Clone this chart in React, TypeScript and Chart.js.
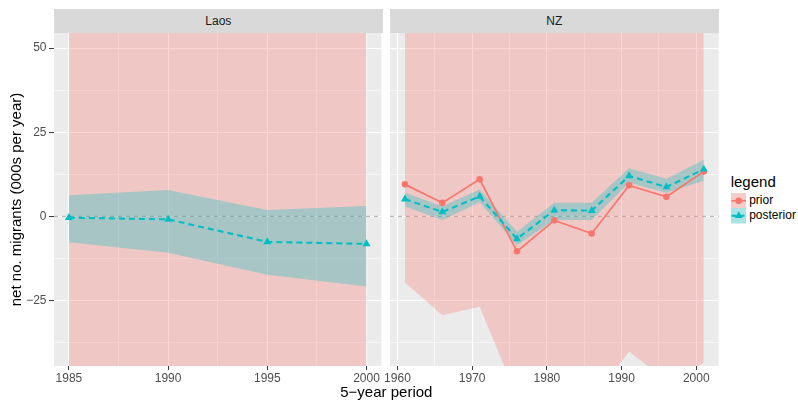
import React, { useEffect, useRef } from "react";
import { Chart, registerables } from "chart.js";

Chart.register(...registerables);

// ---------- data ----------
const laosYears = [1985, 1990, 1995, 2000];
const laosPriorLower = [-90, -90, -90, -90];
const laosPriorUpper = [90, 90, 90, 90];
const laosPostLower = [-7.7, -10.8, -17.4, -20.9];
const laosPostUpper = [6.3, 7.8, 1.9, 3.1];
const laosPosterior = [-0.4, -0.9, -7.6, -8.2];

const nzYears = [1961, 1966, 1971, 1976, 1981, 1986, 1991, 1996, 2001];
const nzPrior = [9.5, 4.0, 11.0, -10.4, -1.2, -5.1, 9.2, 5.8, 13.3];
const nzPriorLower = [-19.7, -29.4, -26.9, -53.6, -60.0, -55.2, -40.2, -48.8, -43.6];
const nzPriorUpper = [90, 90, 90, 90, 90, 90, 90, 90, 90];
const nzPosterior = [5.1, 1.3, 5.9, -6.7, 1.8, 1.7, 12.0, 8.7, 14.0];
const nzPostLower = [2.9, -1.1, 4.2, -8.6, -1.1, -1.1, 10.0, 7.0, 10.6];
const nzPostUpper = [7.0, 3.0, 8.0, -4.6, 4.0, 4.0, 14.3, 11.2, 16.8];

const yTicks = [-37.5, -25, -12.5, 0, 12.5, 25, 37.5, 50];
const yMajorStep = 25;
const yRange = [-44.5, 54.5];
const laosXTicks = [1985, 1987.5, 1990, 1992.5, 1995, 1997.5, 2000];
const laosXMajorStep = 5;
const laosXRange = [1984.25, 2000.75];
const nzXTicks = [1960, 1965, 1970, 1975, 1980, 1985, 1990, 1995, 2000];
const nzXMajorStep = 10;
const nzXRange = [1959, 2003];

const facetNames = ["Laos", "NZ"];
const legendTitle = "legend";
const legendLabels = ["prior", "posterior"];
const xTitle = "5\u2212year period";
const yTitle = "net no. migrants (000s per year)";

// ---------- styles ----------
const FONT = '"Liberation Sans", Arial, Helvetica, sans-serif';
const RED = "#F8766D";
const TEAL = "#00BFC4";
const RED_FILL = "rgba(248,118,109,0.3)";
const TEAL_FILL = "rgba(0,191,196,0.3)";
const NONE = "rgba(0,0,0,0)";

const isMultiple = (v: number, step: number) => Math.abs(v / step - Math.round(v / step)) < 1e-9;
const fmt = (v: number) => (v < 0 ? "\u2212" + Math.abs(v) : String(v));

const pts = (xs: number[], ys: number[]) => xs.map((x, i) => ({ x, y: ys[i] }));

const panelBg = {
  id: "panelBg",
  beforeDraw(chart: any) {
    const { ctx, chartArea: a } = chart;
    ctx.save();
    ctx.fillStyle = "#EBEBEB";
    ctx.fillRect(a.left, a.top, a.right - a.left, a.bottom - a.top);
    ctx.restore();
  },
};

const zeroLine = {
  id: "zeroLine",
  beforeDatasetsDraw(chart: any) {
    const { ctx, chartArea: a } = chart;
    const y = chart.scales.y.getPixelForValue(0);
    ctx.save();
    ctx.strokeStyle = "#A3A3A3";
    ctx.lineWidth = 0.9;
    ctx.setLineDash([4, 4]);
    ctx.beginPath();
    ctx.moveTo(a.left, y);
    ctx.lineTo(a.right, y);
    ctx.stroke();
    ctx.restore();
  },
};

type PanelSpec = {
  xs: number[];
  priorLower: number[];
  priorUpper: number[];
  prior?: number[];
  postLower: number[];
  postUpper: number[];
  post: number[];
  xTicks: number[];
  xStep: number;
  xRange: number[];
  showY: boolean;
  yWidth: number;
  padRight: number;
};

function makeConfig(p: PanelSpec): any {
  const ribbon = (data: number[], fill: any, bg: string, order: number) => ({
    data: pts(p.xs, data),
    borderColor: NONE,
    borderWidth: 0,
    pointRadius: 0,
    backgroundColor: bg,
    fill,
    order,
  });
  // higher "order" is drawn first (underneath)
  const datasets: any[] = [
    ribbon(p.priorLower, false, NONE, 9),
    ribbon(p.priorUpper, "-1", RED_FILL, 8),
    ribbon(p.postLower, false, NONE, 7),
    ribbon(p.postUpper, "-1", TEAL_FILL, 6),
  ];
  if (p.prior) {
    datasets.push({
      data: pts(p.xs, p.prior),
      borderColor: RED,
      borderWidth: 1.7,
      pointStyle: "circle",
      pointRadius: 3.3,
      pointBackgroundColor: RED,
      pointBorderColor: RED,
      pointBorderWidth: 0,
      fill: false,
      order: 5,
    });
  }
  datasets.push({
    data: pts(p.xs, p.post),
    borderColor: TEAL,
    borderWidth: 2.1,
    borderDash: [6, 4],
    pointStyle: "triangle",
    pointRadius: 4.6,
    pointBackgroundColor: TEAL,
    pointBorderColor: TEAL,
    pointBorderWidth: 0,
    fill: false,
    order: 4,
  });

  return {
    type: "line",
    data: { datasets },
    plugins: [panelBg, zeroLine],
    options: {
      responsive: false,
      animation: false,
      events: [],
      layout: { padding: { top: 33, right: p.padRight, left: 0, bottom: 0 } },
      elements: { line: { tension: 0 } },
      plugins: {
        legend: { display: false },
        tooltip: { enabled: false },
        title: { display: false },
      },
      scales: {
        x: {
          type: "linear",
          min: p.xRange[0],
          max: p.xRange[1],
          afterBuildTicks: (s: any) => {
            s.ticks = p.xTicks.map((v) => ({ value: v }));
          },
          afterFit: (s: any) => {
            s.height = 36;
          },
          border: { display: false },
          grid: {
            color: "#FFFFFF",
            lineWidth: (c: any) => (c.tick && isMultiple(c.tick.value, p.xStep) ? 1.1 : 0.55),
            tickLength: 4,
            tickWidth: 1,
            tickColor: (c: any) => (c.tick && isMultiple(c.tick.value, p.xStep) ? "#333333" : NONE),
          },
          ticks: {
            autoSkip: false,
            maxRotation: 0,
            padding: 1,
            color: "#4D4D4D",
            font: { family: FONT, size: 12 },
            callback: (v: number) => (isMultiple(v, p.xStep) ? String(v) : ""),
          },
        },
        y: {
          type: "linear",
          position: "left",
          min: yRange[0],
          max: yRange[1],
          afterBuildTicks: (s: any) => {
            s.ticks = yTicks.map((v) => ({ value: v }));
          },
          afterFit: (s: any) => {
            s.width = p.yWidth;
          },
          border: { display: false },
          grid: {
            color: "#FFFFFF",
            lineWidth: (c: any) => (c.tick && isMultiple(c.tick.value, yMajorStep) ? 1.1 : 0.55),
            drawTicks: p.showY,
            tickLength: 5,
            tickWidth: 1,
            tickColor: (c: any) => (c.tick && isMultiple(c.tick.value, yMajorStep) ? "#333333" : NONE),
          },
          ticks: {
            display: p.showY,
            autoSkip: false,
            padding: 2.5,
            color: "#4D4D4D",
            font: { family: FONT, size: 12 },
            callback: (v: number) => (isMultiple(v, yMajorStep) ? fmt(v) : ""),
          },
          title: {
            display: p.showY,
            text: yTitle,
            color: "#000000",
            font: { family: FONT, size: 15 },
            padding: { top: 8, bottom: 0 },
          },
        },
      },
    },
  };
}

function Panel(props: { spec: PanelSpec; left: number; width: number }) {
  const ref = useRef<HTMLCanvasElement | null>(null);
  useEffect(() => {
    if (!ref.current) return;
    const chart = new Chart(ref.current, makeConfig(props.spec));
    return () => chart.destroy();
  }, []);
  return (
    <canvas
      ref={ref}
      width={props.width}
      height={402}
      style={{ position: "absolute", left: props.left, top: 0, width: props.width, height: 402 }}
    />
  );
}

function Strip(props: { left: number; width: number; text: string }) {
  return (
    <div
      style={{
        position: "absolute",
        left: props.left,
        top: 9,
        width: props.width,
        height: 24,
        background: "#D9D9D9",
        color: "#1A1A1A",
        fontSize: 12,
        lineHeight: "24px",
        textAlign: "center",
      }}
    >
      {props.text}
    </div>
  );
}

function LegendKey(props: { fill: string; color: string; dashed: boolean; shape: "circle" | "triangle" }) {
  const s = 15.5;
  const c = s / 2;
  const r = 4.6;
  return (
    <svg width={s} height={s} style={{ display: "block" }}>
      <rect x={0} y={0} width={s} height={s} fill="#F2F2F2" />
      <rect x={0} y={0} width={s} height={s} fill={props.fill} />
      <line
        x1={0.5}
        y1={c}
        x2={s - 0.5}
        y2={c}
        stroke={props.color}
        strokeWidth={props.dashed ? 2.1 : 1.7}
        strokeDasharray={props.dashed ? "5 3" : undefined}
      />
      {props.shape === "circle" ? (
        <circle cx={c} cy={c} r={3.3} fill={props.color} />
      ) : (
        <polygon
          points={`${c},${c - r} ${c + r * 0.866},${c + r * 0.5} ${c - r * 0.866},${c + r * 0.5}`}
          fill={props.color}
        />
      )}
    </svg>
  );
}

export default function App() {
  const laosSpec: PanelSpec = {
    xs: laosYears,
    priorLower: laosPriorLower,
    priorUpper: laosPriorUpper,
    postLower: laosPostLower,
    postUpper: laosPostUpper,
    post: laosPosterior,
    xTicks: laosXTicks,
    xStep: laosXMajorStep,
    xRange: laosXRange,
    showY: true,
    yWidth: 54,
    padRight: 3.3,
  };
  const nzSpec: PanelSpec = {
    xs: nzYears,
    priorLower: nzPriorLower,
    priorUpper: nzPriorUpper,
    prior: nzPrior,
    postLower: nzPostLower,
    postUpper: nzPostUpper,
    post: nzPosterior,
    xTicks: nzXTicks,
    xStep: nzXMajorStep,
    xRange: nzXRange,
    showY: false,
    yWidth: 20,
    padRight: 11.3,
  };
  return (
    <div
      style={{
        position: "absolute",
        left: 0,
        top: 0,
        width: 798,
        height: 402,
        background: "#FFFFFF",
        fontFamily: FONT,
        overflow: "hidden",
      }}
    >
      <Strip left={54} width={328.7} text={facetNames[0]} />
      <Strip left={390} width={328.7} text={facetNames[1]} />
      <Panel spec={laosSpec} left={0} width={386} />
      <Panel spec={nzSpec} left={370} width={360} />
      <div
        style={{
          position: "absolute",
          left: 54,
          width: 664.7,
          top: 383,
          fontSize: 15,
          lineHeight: "18px",
          textAlign: "center",
          color: "#000000",
        }}
      >
        {xTitle}
      </div>
      <div style={{ position: "absolute", left: 730.7, top: 173.3, fontSize: 15, lineHeight: "18px", color: "#000000" }}>
        {legendTitle}
      </div>
      <div style={{ position: "absolute", left: 730.7, top: 192.5 }}>
        {[
          { fill: RED_FILL, color: RED, dashed: false, shape: "circle" as const },
          { fill: TEAL_FILL, color: TEAL, dashed: true, shape: "triangle" as const },
        ].map((k, i) => (
          <div key={i} style={{ display: "flex", alignItems: "center", height: 15.5 }}>
            <LegendKey fill={k.fill} color={k.color} dashed={k.dashed} shape={k.shape} />
            <span style={{ marginLeft: 3, fontSize: 12, lineHeight: "15.5px", color: "#000000" }}>{legendLabels[i]}</span>
          </div>
        ))}
      </div>
    </div>
  );
}
